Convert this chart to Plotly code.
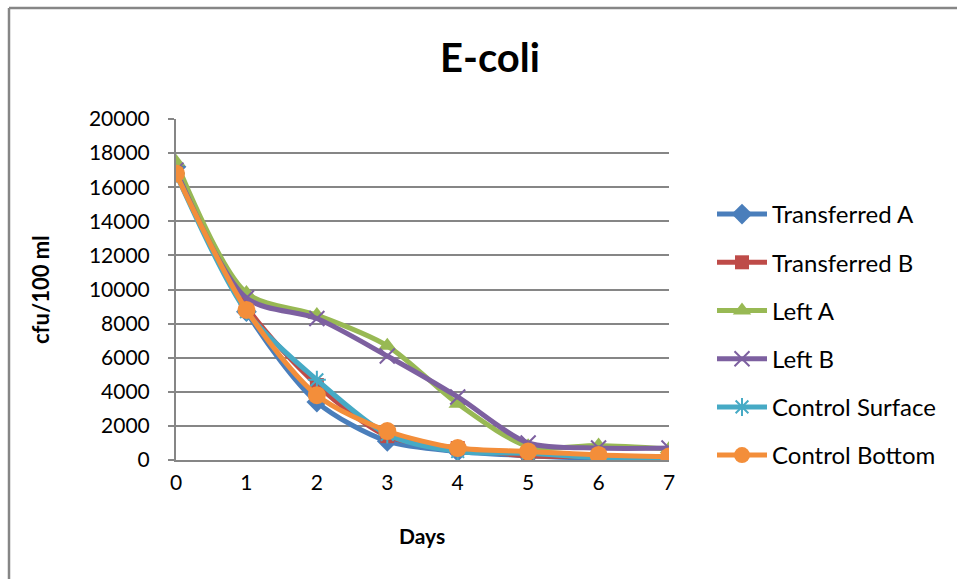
import plotly.graph_objects as go

days = [0, 1, 2, 3, 4, 5, 6, 7]
transferred_a = [17200, 8700, 3400, 1100, 500, 250, 100, 100]
transferred_b = [16800, 9000, 4400, 1400, 700, 250, 200, 200]
left_a = [17500, 9800, 8500, 6700, 3300, 800, 850, 650]
left_b = [17000, 9500, 8300, 6100, 3700, 1000, 700, 700]
control_surface = [16800, 8700, 4700, 1500, 500, 400, 150, 150]
control_bottom = [16800, 8800, 3800, 1700, 700, 500, 300, 200]
y_ticks = [0, 2000, 4000, 6000, 8000, 10000, 12000, 14000, 16000, 18000, 20000]
y_tick_labels = [str(v) for v in y_ticks]

series = [
    ("Transferred A", transferred_a, "#4A7EBB", "diamond", 16),
    ("Transferred B", transferred_b, "#BE4B48", "square", 14),
    ("Left A", left_a, "#98B954", "triangle-up", 16),
    ("Left B", left_b, "#7D60A0", "x-thin-open", 15),
    ("Control Surface", control_surface, "#46AAC5", "asterisk-open", 15),
    ("Control Bottom", control_bottom, "#F38E3A", "circle", 18),
]

FONT = "Lato"
W, H = 957, 579
L, R, T, B = 176, 669, 119, 460

fig = go.Figure()
for i, (name, vals, col, sym, sz) in enumerate(series):
    open_sym = sym.endswith("open")
    fig.add_trace(go.Scatter(
        x=days, y=vals, name=name, mode="lines+markers",
        line=dict(color=col, width=5, shape="spline", smoothing=0.8),
        marker=dict(symbol=sym, size=sz, color=col,
                    line=dict(color=col, width=2 if open_sym else 0)),
        legendgroup="g%d" % i,
    ))

def px_x(px):
    return (px - L) / (R - L)

def px_y(py):
    return (B - py) / (B - T)

fig.update_layout(
    width=W, height=H,
    margin=dict(l=L, r=W - R, t=T, b=H - B),
    paper_bgcolor="white", plot_bgcolor="white",
    font=dict(family=FONT, size=21, color="black"),
    showlegend=True,
    legend=dict(x=px_x(712), y=px_y(192), xanchor="left", yanchor="top",
                font=dict(family=FONT, size=24), tracegroupgap=14,
                itemwidth=50, bgcolor="rgba(0,0,0,0)"),
    xaxis=dict(range=[0, 7], tickvals=days, showgrid=False, showline=True,
               linecolor="#868686", linewidth=2, ticks="", zeroline=False,
               tickfont=dict(family=FONT, size=21), ticklabelstandoff=3,
               fixedrange=True),
    yaxis=dict(range=[0, 20000], tickvals=y_ticks, ticktext=y_tick_labels,
               showgrid=True, gridcolor="#868686", gridwidth=1.5, showline=True,
               linecolor="#868686", linewidth=2, ticks="outside", ticklen=6,
               tickcolor="#868686", tickwidth=1.5, zeroline=False,
               tickfont=dict(family=FONT, size=21), ticklabelstandoff=14,
               fixedrange=True),
    annotations=[
        dict(text="<b>E-coli</b>", x=px_x(490), y=px_y(57), xref="paper", yref="paper",
             showarrow=False, font=dict(family=FONT, size=40), xanchor="center", yanchor="middle"),
        dict(text="<b>Days</b>", x=px_x(422), y=px_y(535), xref="paper", yref="paper",
             showarrow=False, font=dict(family=FONT, size=21), xanchor="center", yanchor="middle"),
        dict(text="<b>cfu/100 ml</b>", x=px_x(40), y=px_y(290), xref="paper", yref="paper",
             showarrow=False, font=dict(family=FONT, size=22), textangle=-90,
             xanchor="center", yanchor="middle"),
    ],
    shapes=[
        dict(type="line", xref="paper", yref="paper", x0=px_x(9), x1=px_x(1000),
             y0=px_y(8), y1=px_y(8), line=dict(color="#868686", width=2.5)),
        dict(type="line", xref="paper", yref="paper", x0=px_x(9), x1=px_x(9),
             y0=px_y(8), y1=px_y(700), line=dict(color="#868686", width=2.5)),
    ],
)

fig.write_html("out.html")
